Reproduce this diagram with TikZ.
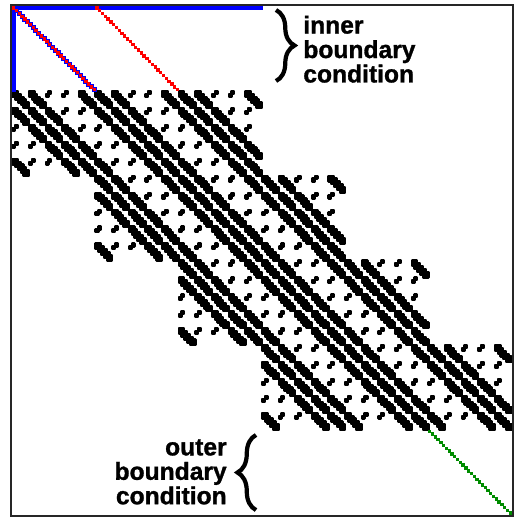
\documentclass[tikz,border=0pt]{standalone}
\usepackage{fontspec}
\newfontfamily\lblfont{Liberation Sans Bold}[FakeBold=1.2]
\usetikzlibrary{decorations.pathreplacing}
\definecolor{bcblue}{RGB}{0,0,255}
\definecolor{bcred}{RGB}{255,0,0}
\definecolor{bcgreen}{RGB}{0,140,0}
\tikzset{
  nz/.style={fill=black,draw=black,line width=1.3pt,line join=round},
  frm/.style={draw=black!85,line width=0.8pt},
  brc/.style={decorate,decoration={brace,amplitude=0.37cm},line width=2.4pt},
  lbl/.style={font=\lblfont\fontsize{14}{13.9}\selectfont,inner sep=0pt},
}

\begin{document}
\begin{tikzpicture}[x=0.05547cm,y=-0.05646cm]
\useasboundingbox (-3.966,-1.771) rectangle (181.36,181.71);
\begin{scope}[shift={(0.5,0.5)}]
% interior block rows: tridiagonal 6x6 sub-blocks, periodic in the 5 sub-blocks
\foreach \R in {1,...,4}{
  \foreach \dC in {-1,0,1}{
    \foreach \a in {0,...,4}{
      \pgfmathtruncatemacro\rowo{30*\R+6*\a}
      \foreach \s in {0,1,4}{
        \pgfmathtruncatemacro\colo{30*(\R+\dC)+6*mod(\a+\s,5)}
        \filldraw[nz] (\colo,\rowo) -- ++(2,0) -- ++(0,1) -- ++(1,0) -- ++(0,1) -- ++(1,0)
          -- ++(0,1) -- ++(1,0) -- ++(0,1) -- ++(1,0) -- ++(0,2) -- ++(-2,0) -- ++(0,-1)
          -- ++(-1,0) -- ++(0,-1) -- ++(-1,0) -- ++(0,-1) -- ++(-1,0) -- ++(0,-1) -- ++(-1,0) -- cycle;
      }
      \foreach \s in {2,3}{
        \pgfmathtruncatemacro\colo{30*(\R+\dC)+6*mod(\a+\s,5)}
        \filldraw[nz] (\colo+1,\rowo) rectangle ++(1,1) (\colo,\rowo+1) rectangle ++(1,1);
      }
    }
  }
}
% inner boundary rows
\foreach \i in {0,...,29}
  \fill[bcblue] (\i-0.4,\i-0.4) rectangle ++(1.8,1.8);
\fill[bcblue] (-0.4,-0.4) rectangle (90.4,1.4);
\fill[bcblue] (-0.4,-0.4) rectangle (1.4,30.4);
\foreach \i in {0,...,29}{
  \fill[bcred] (\i-0.1,\i-0.1) rectangle ++(1.2,1.2);
  \fill[bcred] (\i+29.9,\i-0.1) rectangle ++(1.2,1.2);
}
% outer boundary rows
\foreach \i in {150,...,179}
  \fill[bcgreen] (\i-0.1,\i-0.1) rectangle ++(1.2,1.2);
\end{scope}
\draw[frm] (0,0) rectangle (181,181);
% labels
\node[lbl,align=left,anchor=west] (inner) at (105.28,15.66) {inner\\boundary\\condition};
\node[lbl,align=right,anchor=east] (outer) at (77.88,165.38) {outer\\boundary\\condition};
\coordinate (ibtop) at (95.55,1.77);
\coordinate (ibbot) at (95.55,26.92);
\coordinate (obtop) at (88.34,152.3);
\coordinate (obbot) at (88.34,178.9);
\draw[brc] (ibtop) -- (ibbot);
\draw[brc] (obbot) -- (obtop);
\end{tikzpicture}
\end{document}
